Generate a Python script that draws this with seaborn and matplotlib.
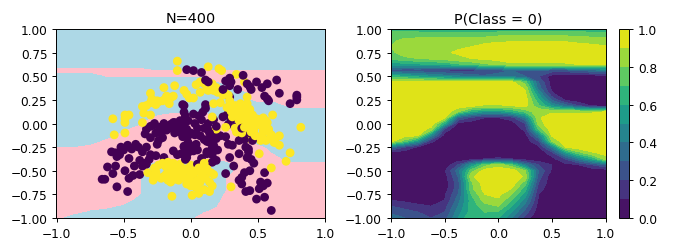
import numpy as np
import pandas as pd
import seaborn as sns
import matplotlib
matplotlib.use('Agg')
import matplotlib.pyplot as plt

# points of class 1 (purple)
purple_x = [-.03, .02, .08, .11, .13, .26, .29, .30, .39, .42, .44, .45, .49, .53, .57, .64, .66, .55, .57, .58,
            .74, .79, .79, .79, .24, .29, .35, .29, -.06, .11,
            -.59, -.56, -.52, -.55, -.46, -.47, -.41, -.39, -.33, -.62, -.56, -.58, -.55, -.66, -.64, -.49, -.46,
            -.43, -.38, -.47, -.31, -.38, -.36, -.33, -.26, -.20, -.13, -.05, -.03, -.02, .02, -.07, -.03, .05,
            .12, .16, .19, .17, .19, .14, .22, .28, .31, .29, .32, .36, .41, .43, .42, .45, .44, .40, .38, .36,
            .38, .41, .44, .49, .55, .51, .54, .57, .55, .60, .26,
            -.05, -.05, -.04, .02, .06, .09, .11, .08, .13, .17, .24, .27, .30, .03, -.02, -.08, -.12, -.15, -.10,
            -.05, -.14, -.09, -.03, .05, .10, .13, .18, .15, .21, .12, .15, -.02, -.06, .03, -.20, -.27, -.30,
            -.18, -.22, -.26, -.12, -.33, -.34, -.24, -.21, -.25, -.05, .0, .02, .05, .12, .16, .40, .39, .44,
            .46, .34, .28, .26, .36, .40,
            -.16, -.13, -.07, .0, .07, -.28, -.23, -.30, -.02, .04, .10, .2, .16, -.36, -.44, -.5, -.53, -.42,
            -.34, -.30, .08, .14, .19, -.1, -.04, .38, .43, .47, .52]
purple_y = [.57, .56, .54, .46, .44, .45, .48, .44, .51, .42, .39, .36, .44, .38, .42, .46, .32, .29, .26, .24,
            .21, .30, .28, .25, .36, .40, .36, .28, .20, .20,
            -.30, -.31, -.25, -.35, -.37, -.23, -.22, -.25, -.25, -.46, -.45, -.53, -.67, -.59, -.59, -.50, -.58,
            -.55, -.54, -.72, -.38, -.39, -.45, -.43, -.34, -.36, -.29, -.25, -.25, -.31, -.29, -.32, -.36, -.43,
            -.32, -.41, -.39, -.23, -.16, -.20, -.13, -.22, -.23, -.36, -.45, -.32, -.25, -.27, -.36, -.38, -.50,
            -.52, -.57, -.60, -.64, -.72, -.71, -.80, -.78, -.69, -.66, -.63, -.52, -.92, -.53,
            .19, .12, .08, .10, .08, .12, .16, .04, .0, .04, .07, .09, .04, .0, .03, .03, .01, -.01, -.03,
            -.02, -.05, -.07, -.06, -.05, -.05, -.07, -.10, -.13, -.13, -.19, -.19, -.13, -.14, -.12, .0, .0, -.03,
            -.07, -.10, -.10, -.10, -.06, -.11, -.18, -.15, -.22, -.24, -.26, -.24, -.28, -.30, -.33, -.10, -.11,
            -.10, -.18, -.03, -.01, -.14, -.18, -.17,
            -.03, .01, -.10, -.10, -.13, -.02, -.04, -.15, -.20, -.22, -.17, -.28, -.26, -.30, -.27, -.28, -.33, -.45,
            -.42, -.33, -.37, -.10, -.03, -.33, -.38, -.05, -.30, -.42, -.62]

# points of class 0 (yellow)
yellow_x = [-.10, -.10, .13, .21, .23, .34, .40, .04, .10, .16, .19, .17, .13, .07, -.05, -.03, -.20, -.12, -.30,
            -.13, -.18, -.21, -.25, -.30, -.26, -.16, -.36, -.35, -.30, -.01, .17, .22, .29, .27, .33, .37, .42,
            .42, .44, .31, .34, .39, .42, .16, .19, .26, .37, .34, .39, .44, .47, .49, .54, .61, .57, .52, .54,
            .47, .44, .52, .59, .62, .66, .66, .82, .51, .74, .71, .60, .30,
            -.58, -.49, -.49, -.46, -.49, -.57, -.49, -.36,
            -.32, -.28, -.25, -.22, -.27, -.24, -.21, -.19, -.17, -.15, -.13, -.18, -.16, -.14, -.12, -.10, -.08,
            -.06, -.04, -.02, .0, .02, .04, .06, .09, .10, .08, .12, .15, .17, -.17, -.15, -.12, -.09, -.05, -.02,
            .0, .02, .05, .07, .11, .14, .16, .04, .07, .10, .14, .01, .06, -.14, -.20, -.26, -.03, .0, .03,
            .36, .40, .43, .46, .50, .56, .58, .41, .45, .48, .53, .60, .63, .38, .33, .24, .30,
            .35, .38, .41, .36, .43, .40, .46, .44, .48, .51, .55, .58, .62, .56, .50, .47, .41, .37, .32, .28,
            -.24, -.29, -.33, -.19, -.15, .02, .07, .12, .2, .25, -.28, -.1, -.08, .13, .05]
yellow_y = [.66, .56, .60, .58, .56, .52, .44, .41, .42, .42, .38, .35, .35, .33, .35, .31, .38, .40, .32,
            .29, .29, .24, .24, .22, .20, .21, .18, .11, .09, .27, .21, .22, .24, .17, .19, .21, .28,
            .21, .15, .07, .10, .08, .05, .07, -.06, -.04, .01, -.09, -.06, -.02, .03, .05, .06, .09, .01, -.02,
            -.08, -.11, -.16, -.18, -.16, -.20, -.13, -.23, -.04, -.32, -.31, -.40, -.47, -.67,
            .05, .05, .09, .09, .01, -.12, -.10, .01,
            -.52, -.60, -.56, -.58, -.47, -.44, -.42, -.45, -.41, -.45, -.42, -.53, -.55, -.50, -.52, -.55, -.50,
            -.52, -.48, -.50, -.55, -.53, -.50, -.47, -.52, -.42, -.55, -.48, -.52, -.54, -.60, -.62, -.59, -.60,
            -.58, -.60, -.66, -.63, -.60, -.62, -.58, -.62, -.66, -.68, -.71, -.70, -.72, -.76, -.74, -.77, -.56,
            -.51, -.64, -.44, -.45,
            .14, .17, .12, .09, .00, .03, -.06, -.03, -.09, -.13, -.14, -.12, -.20, -.10, -.05, .30, .13,
            .12, .17, .09, .03, .0, -.04, .05, .08, -.02, .04, -.02, -.09, -.15, -.18, -.14, -.07, -.01, -.11, .14, .3,
            .23, .26, .19, .26, .27, .27, .44, .36, .33, .34, -.55, -.47, -.43, -.42, -.6]

grid_x = [-1, -.875, -.75, -.625, -.5, -.375, -.25, -.125, 0, .125, .25, .375, .5, .625, .75, .875, 1]
grid_y = [1, .9375, .875, .8125, .75, .6875, .625, .5625, .5, .4375, .375, .3125, .25, .1875, .125, .0625, 0,
          -.0625, -.125, -.1875, -.25, -.3125, -.375, -.4375, -.5, -.5625, -.625, -.6875, -.75, -.8125, -.875,
          -.9375, -1]

# P(Class = 0), top to bottom
prob = [
    [.65, .65, .65, .62, .62, .62, .62, .62, .62, .65, .65, .65, .65, .65, .65, .62, .62],
    [.75, .75, .75, .75, .75, .75, .75, .75, .78, .78, .78, .78, .78, .78, .78, .75, .75],
    [.78, .83, .85, .85, .85, .85, .86, .88, .89, .89, .89, .89, .89, .89, .88, .87, .85],
    [.80, .86, .87, .88, .88, .89, .90, .92, .93, .95, .95, .95, .95, .95, .93, .92, .91],
    [.78, .84, .86, .87, .89, .91, .94, .95, .96, .97, .97, .97, .97, .97, .96, .95, .95],
    [.72, .78, .80, .82, .84, .88, .90, .92, .94, .96, .96, .96, .96, .96, .96, .95, .95],
    [.55, .55, .58, .60, .62, .68, .72, .78, .82, .88, .88, .88, .88, .88, .90, .90, .90],
    [.25, .22, .22, .20, .18, .15, .16, .20, .25, .30, .30, .30, .25, .25, .30, .35, .40],
    [.65, .60, .55, .50, .45, .42, .35, .32, .35, .35, .30, .20, .05, .03, .03, .03, .03],
    [.95, .96, .96, .95, .95, .95, .95, .95, .95, .93, .75, .30, .05, .02, .02, .02, .02],
    [.98, .98, .98, .98, .98, .98, .98, .98, .98, .98, .88, .35, .07, .02, .02, .02, .02],
    [.98, .98, .98, .98, .98, .98, .98, .98, .98, .98, .93, .50, .12, .03, .02, .02, .02],
    [.98, .98, .98, .98, .98, .98, .98, .98, .98, .98, .96, .62, .28, .08, .03, .02, .02],
    [.98, .98, .98, .98, .98, .96, .92, .88, .88, .90, .93, .72, .50, .35, .20, .08, .05],
    [.98, .98, .98, .98, .98, .80, .60, .50, .50, .60, .72, .88, .88, .88, .88, .88, .90],
    [.98, .98, .98, .98, .92, .30, .18, .10, .10, .15, .40, .88, .97, .97, .97, .97, .97],
    [.98, .98, .98, .97, .60, .07, .04, .03, .03, .05, .20, .85, .98, .98, .98, .98, .98],
    [.98, .98, .98, .85, .15, .03, .02, .02, .02, .03, .12, .70, .97, .98, .98, .98, .98],
    [.98, .95, .92, .45, .05, .02, .02, .02, .02, .02, .05, .40, .92, .98, .98, .98, .98],
    [.93, .75, .50, .12, .03, .02, .02, .02, .02, .02, .03, .20, .80, .97, .98, .98, .98],
    [.35, .20, .08, .03, .02, .02, .02, .02, .02, .02, .02, .07, .40, .90, .96, .98, .98],
    [.05, .03, .02, .02, .02, .02, .02, .02, .02, .02, .02, .03, .15, .50, .75, .88, .93],
    [.02, .02, .02, .02, .02, .02, .04, .10, .12, .10, .04, .02, .06, .20, .40, .60, .85],
    [.02, .02, .02, .02, .03, .20, .50, .75, .85, .72, .40, .20, .10, .06, .10, .20, .30],
    [.02, .02, .02, .02, .08, .35, .75, .95, .97, .96, .80, .30, .08, .02, .02, .02, .02],
    [.02, .02, .02, .02, .05, .30, .88, .97, .98, .98, .88, .25, .03, .02, .02, .02, .02],
    [.02, .02, .02, .02, .04, .25, .78, .96, .98, .97, .75, .20, .03, .02, .02, .02, .02],
    [.02, .02, .02, .02, .05, .25, .78, .94, .97, .90, .65, .15, .02, .02, .02, .02, .02],
    [.02, .02, .02, .03, .08, .30, .70, .90, .93, .80, .55, .10, .02, .02, .02, .02, .02],
    [.10, .08, .06, .05, .10, .35, .65, .85, .88, .70, .45, .08, .02, .02, .02, .02, .02],
    [.20, .15, .12, .10, .15, .40, .65, .75, .80, .60, .35, .05, .02, .02, .02, .02, .02],
    [.28, .25, .20, .15, .20, .45, .65, .70, .68, .50, .25, .04, .02, .02, .02, .02, .02],
    [.35, .30, .25, .20, .25, .50, .70, .70, .60, .40, .15, .02, .02, .02, .02, .02, .02],
]

# decision regions of the left panel, 1 = light blue, 0 = pink
region = [
    [1] * 17,
    [1] * 17,
    [1] * 17,
    [1] * 17,
    [1] * 17,
    [1] * 17,
    [1] * 17,
    [0, 0, 0, 0, 0, 0, .45, .45, .45, .45, .45, .45, .45, .45, .45, .45, .45],
    [1, 1, 1, .3, .3, .3, .3, .3, .3, .3, 0, 0, 0, 0, 0, 0, 0],
    [1, 1, 1, 1, 1, 1, 1, 1, 1, 1, 0, 0, 0, 0, 0, 0, 0],
    [1, 1, 1, 1, 1, 1, 1, 1, 1, 1, 1, 0, 0, 0, 0, 0, 0],
    [1, 1, 1, 1, 1, 1, 1, 1, 1, 1, 1, 1, 0, 0, 0, 0, 0],
    [1, 1, 1, 1, 1, 1, 1, 1, 1, 1, 1, 1, 0, 0, 0, 0, 0],
    [1, 1, 1, 1, 1, 1, 1, 1, 1, 1, 1, 1, 1, 1, 0, 0, 0],
    [1, 1, 1, 1, 1, 1, 1, .55, .55, .55, 1, 1, 1, 1, 1, 1, 1],
    [1, 1, 1, 1, 1, 1, 0, 0, 0, 0, 1, 1, 1, 1, 1, 1, 1],
    [1, 1, 1, 1, 1, .55, 0, 0, 0, 0, 0, 1, 1, 1, 1, 1, 1],
    [1, 1, 1, 1, .55, 0, 0, 0, 0, 0, 0, 1, 1, 1, 1, 1, 1],
    [1, 1, 1, 1, 0, 0, 0, 0, 0, 0, 0, .5, 1, 1, 1, 1, 1],
    [1, 1, 1, 0, 0, 0, 0, 0, 0, 0, 0, 0, 1, 1, 1, 1, 1],
    [.45, .45, 0, 0, 0, 0, 0, 0, 0, 0, 0, 0, 0, 1, 1, 1, 1],
    [0, 0, 0, 0, 0, 0, 0, 0, 0, 0, 0, 0, 0, .55, 1, 1, 1],
    [0, 0, 0, 0, 0, 0, 0, 0, 0, 0, 0, 0, 0, 0, 1, 1, 1],
    [0, 0, 0, 0, 0, 0, 1, 1, 1, 1, 1, 0, 0, 0, 0, 0, 0],
    [0, 0, 0, 0, 0, 0, 1, 1, 1, 1, 1, 0, 0, 0, 0, 0, 0],
    [0, 0, 0, 0, 0, .45, 1, 1, 1, 1, .55, 0, 0, 0, 0, 0, 0],
    [0, 0, 0, 0, 0, .45, 1, 1, 1, 1, .55, 0, 0, 0, 0, 0, 0],
    [0, 0, 0, 0, 0, .45, 1, 1, 1, 1, .55, 0, 0, 0, 0, 0, 0],
    [0, 0, 0, 0, 0, .45, 1, 1, 1, 1, .45, 0, 0, 0, 0, 0, 0],
    [0, 0, 0, 0, 0, .8, 1, 1, 1, 1, .3, 0, 0, 0, 0, 0, 0],
    [0, 0, 0, 0, .6, 1, 1, 1, 1, 1, 0, 0, 0, 0, 0, 0, 0],
    [0, 0, .6, 1, 1, 1, 1, 1, 1, .3, 0, 0, 0, 0, 0, 0, 0],
    [0, 1, 1, 1, 1, 1, 1, 1, .55, 0, 0, 0, 0, 0, 0, 0, 0],
]

plt.rcParams['font.size'] = 8.7
plt.rcParams['axes.linewidth'] = .7
for k in ('xtick', 'ytick'):
    plt.rcParams[k + '.major.size'] = 3
    plt.rcParams[k + '.major.width'] = .7

# purple and yellow were plotted mixed, so shuffle the drawing order by position in the list
df = pd.DataFrame({'x': yellow_x + purple_x, 'y': yellow_y + purple_y,
                   'cls': ['yellow'] * len(yellow_x) + ['purple'] * len(purple_x)})
df['order'] = np.arange(len(df)) * 7 % len(df)
df = df.sort_values('order')

fig = plt.figure(figsize=(6.73, 2.51), dpi=100)
W, H = 673, 251
ax1 = fig.add_axes([56.5 / W, 1 - 219 / H, 268.5 / W, 189 / H])
ax2 = fig.add_axes([391 / W, 1 - 219 / H, 214.5 / W, 189 / H])
cax = fig.add_axes([619 / W, 1 - 219 / H, 10 / W, 189 / H])

ax1.contourf(grid_x, grid_y, np.array(region), levels=[0, .5, 1], colors=['pink', 'lightblue'])
sns.scatterplot(data=df, x='x', y='y', hue='cls', palette={'purple': '#440154', 'yellow': '#fde725'},
                s=40, linewidth=0, legend=False, ax=ax1)
ax1.set(xlim=(-1, 1), ylim=(-1, 1), xlabel='', ylabel='')
ax1.set_title('N=400', fontsize=10.4, pad=4.8)

cs = ax2.contourf(grid_x, grid_y, np.array(prob), levels=np.linspace(0, 1, 11), cmap='viridis')
ax2.set(xlim=(-1, 1), ylim=(-1, 1))
ax2.set_title('P(Class = 0)', fontsize=10.4, pad=4.8)
cb = fig.colorbar(cs, cax=cax)
cb.set_ticks([0, .2, .4, .6, .8, 1])
cb.outline.set_linewidth(.7)

for ax in (ax1, ax2):
    ax.set_xticks([-1, -.5, 0, .5, 1])
    ax.set_yticks([-1, -.75, -.5, -.25, 0, .25, .5, .75, 1])

fig.savefig('out.png', dpi=100)
